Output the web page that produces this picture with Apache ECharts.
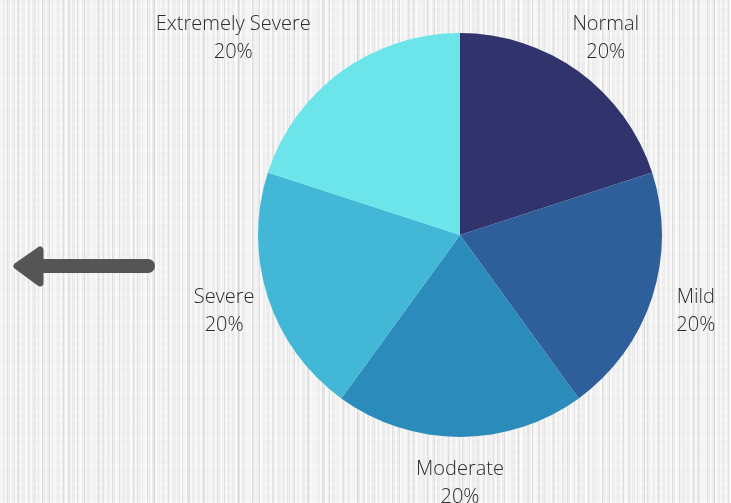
<!DOCTYPE html>
<html>
<head>
<meta charset="utf-8">
<script src="https://cdn.jsdelivr.net/npm/echarts@6/dist/echarts.min.js"></script>
<style>
html,body{margin:0;padding:0;}
body{
  width:731px;height:503px;overflow:hidden;
  background-color:#ececec;
  background-image:
    repeating-linear-gradient(90deg, rgba(255,255,255,0.6) 0px, rgba(255,255,255,0.6) 2px, rgba(0,0,0,0) 2px, rgba(0,0,0,0) 5px),
    repeating-linear-gradient(90deg, rgba(110,110,110,0.12) 0px, rgba(110,110,110,0.12) 1px, rgba(0,0,0,0) 1px, rgba(0,0,0,0) 7px),
    repeating-linear-gradient(90deg, rgba(255,255,255,0.4) 0px, rgba(255,255,255,0.4) 3px, rgba(0,0,0,0) 3px, rgba(0,0,0,0) 13px),
    repeating-linear-gradient(90deg, rgba(90,90,90,0.06) 0px, rgba(90,90,90,0.06) 2px, rgba(0,0,0,0) 2px, rgba(0,0,0,0) 17px),
    repeating-linear-gradient(0deg, rgba(255,255,255,0.15) 0px, rgba(255,255,255,0.15) 3px, rgba(0,0,0,0) 3px, rgba(0,0,0,0) 9px);
}
#chart{width:731px;height:503px;}
</style>
</head>
<body>
<div id="chart"></div>
<script>
var categories = ['Normal', 'Mild', 'Moderate', 'Severe', 'Extremely Severe'];
var values = [20, 20, 20, 20, 20];
var colors = ['#30336c', '#2e5f9b', '#2b8bbb', '#42b8d6', '#6be5e9'];

var chart = echarts.init(document.getElementById('chart'), null, {renderer: 'canvas'});

var pieData = categories.map(function (c, i) {
  return {name: c, value: values[i], itemStyle: {color: colors[i]}};
});
var labelData = categories.map(function (c, i) {
  var item = {name: c, value: values[i]};
  if (c === 'Extremely Severe') {
    item.label = {offset: [-81, 4]};
  } else if (c === 'Normal') {
    item.label = {offset: [0, 4]};
  }
  return item;
});

var labelFont = {
  fontFamily: '"Open Sans", sans-serif',
  fontWeight: 300,
  fontSize: 20,
  color: '#2b2b2b',
  lineHeight: 28
};

chart.setOption({
  backgroundColor: 'transparent',
  animation: false,
  series: [
    {
      type: 'pie',
      center: [460, 235],
      radius: [0, 202],
      startAngle: 90,
      clockwise: true,
      silent: true,
      label: {show: false},
      labelLine: {show: false},
      itemStyle: {borderWidth: 0},
      data: pieData
    },
    {
      type: 'pie',
      center: [460, 235],
      radius: [240, 250],
      startAngle: 90,
      clockwise: true,
      silent: true,
      itemStyle: {color: 'rgba(0,0,0,0)', borderWidth: 0},
      labelLine: {show: false},
      label: Object.assign({
        show: true,
        position: 'inside',
        rotate: 0,
        overflow: 'none',
        align: 'center',
        formatter: function (p) { return p.name + '\n' + Math.round(p.percent) + '%'; }
      }, labelFont),
      data: labelData
    }
  ],
  graphic: [
    {
      type: 'line',
      shape: {x1: 42, y1: 266, x2: 148, y2: 266},
      style: {stroke: '#555555', lineWidth: 14, lineCap: 'round'}
    },
    {
      type: 'polygon',
      shape: {points: [[17, 266], [40, 250], [40, 283]]},
      style: {fill: '#555555', stroke: '#555555', lineWidth: 7, lineJoin: 'round'}
    }
  ]
});
</script>
</body>
</html>
